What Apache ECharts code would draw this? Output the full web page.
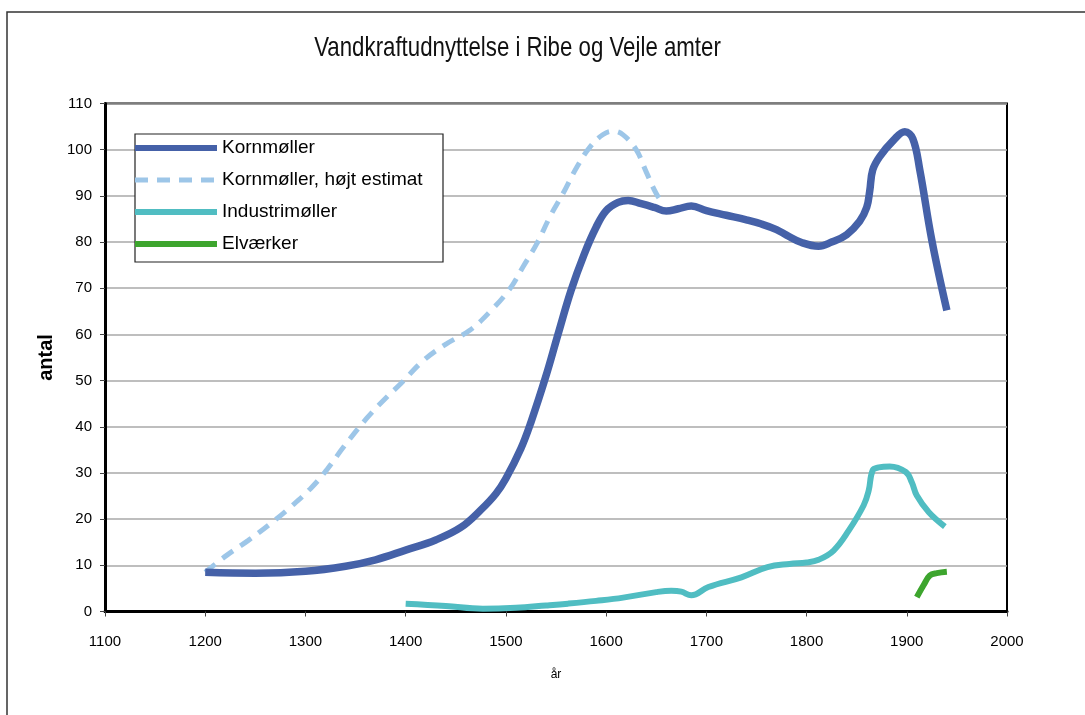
<!DOCTYPE html>
<html>
<head>
<meta charset="utf-8">
<script src="https://cdn.jsdelivr.net/npm/echarts@6/dist/echarts.min.js"></script>
<style>
  html, body { margin: 0; padding: 0; background: #fff; }
  #chart { width: 1085px; height: 715px; }
</style>
</head>
<body>
<div id="chart"></div>
<script>
const title = 'Vandkraftudnyttelse i Ribe og Vejle amter';
const xAxisName = 'år';
const yAxisName = 'antal';
const seriesNames = ['Kornmøller', 'Kornmøller, højt estimat', 'Industrimøller', 'Elværker'];

const kornYears  = [1200,1250,1300,1340,1370,1400,1430,1455,1475,1490,1500,1515,1525,1540,1552,1565,1578,1590,1600,1612,1622,1635,1648,1660,1672,1685,1700,1720,1740,1755,1770,1780,1795,1812,1825,1840,1853,1860,1863,1866,1873,1887,1898,1906,1913,1925,1940];
const kornValues = [8.5,8.3,8.7,9.8,11.2,13.3,15.5,18.2,22,25.5,28.8,35.3,41,51,60,69.5,77.3,83.2,86.8,88.6,89,88.3,87.5,86.7,87.2,87.8,86.8,85.8,84.8,83.9,82.7,81.5,79.9,79.1,80,81.6,84.5,87.5,91,95.6,98.5,102.1,103.9,102.4,95.6,80.4,65.2];

const hoejYears  = [1200,1221,1243,1265,1285,1305,1321,1338,1361,1381,1395,1418,1441,1464,1484,1504,1517,1531,1544,1557,1571,1584,1597,1607,1617,1630,1640,1650,1658];
const hoejValues = [8.5,12.1,15.4,19,22.6,26.6,30.6,35.6,41.8,46.4,49.3,54.4,58,60.9,64.9,69.9,74.6,79.7,85.5,90.5,96.3,100.6,103.3,104,103.2,100,95.2,90.5,88];

const indYears  = [1400,1440,1477,1510,1540,1562,1590,1617,1650,1665,1675,1685,1702,1735,1761,1783,1800,1812,1827,1842,1857,1862,1866,1872,1883,1899,1905,1910,1922,1938];
const indValues = [1.7,1.2,0.6,0.8,1.3,1.7,2.3,3.0,4.2,4.5,4.3,3.5,5.3,7.4,9.6,10.3,10.6,11.2,13.2,17.5,23,26.2,30.6,31.2,31.4,30.2,28,25.1,21.5,18.4];

const elYears  = [1910,1917,1923,1930,1940];
const elValues = [3.1,5.8,7.8,8.3,8.6];

const xTicks = { min: 1100, max: 2000, interval: 100 };
const yTicks = { min: 0, max: 110, interval: 10 };

function pairs(xs, ys) { return xs.map((x, i) => [x, ys[i]]); }

const FONT = "'Liberation Sans', Arial, sans-serif";
const chart = echarts.init(document.getElementById('chart'), null, { renderer: 'canvas' });

chart.setOption({
  backgroundColor: '#ffffff',
  animation: false,
  graphic: [
    { type: 'rect', z: 0, silent: true, shape: { x: 7, y: 12, width: 1100, height: 720 }, style: { fill: 'none', stroke: '#333', lineWidth: 1.5 } },
    { type: 'rect', z: 50, silent: true, shape: { x: 135, y: 134, width: 308, height: 128 }, style: { fill: '#fff', stroke: '#222', lineWidth: 1.2 } },
    { type: 'text', z: 50, silent: true, x: 517.5, y: 48.5, scaleX: 0.795, scaleY: 1,
      style: { text: title, x: 0, y: 0, textAlign: 'center', textVerticalAlign: 'middle', verticalAlign: 'middle',
               font: "normal 28px 'Liberation Sans', Arial, sans-serif", fill: '#111' } }
  ],
  legend: {
    z: 60,
    orient: 'vertical',
    left: 132,
    top: 138,
    padding: 0,
    itemWidth: 82,
    itemHeight: 14,
    itemGap: 12,
    itemStyle: { opacity: 0, borderWidth: 0 },
    lineStyle: { width: 6 },
    textStyle: { fontFamily: FONT, fontSize: 19, lineHeight: 20, color: '#000' },
    data: [
      { name: seriesNames[0], lineStyle: { width: 6 } },
      { name: seriesNames[1], lineStyle: { width: 5 } },
      { name: seriesNames[2], lineStyle: { width: 6 } },
      { name: seriesNames[3], lineStyle: { width: 6 } }
    ]
  },
  grid: {
    left: 105, right: 78, top: 103.5, bottom: 103.5,
    show: true, borderColor: '#000', borderWidth: 2, backgroundColor: 'transparent'
  },
  xAxis: {
    type: 'value',
    min: xTicks.min, max: xTicks.max, interval: xTicks.interval,
    name: xAxisName,
    nameLocation: 'middle',
    nameGap: 57,
    nameTextStyle: { fontFamily: FONT, fontSize: 12, color: '#000' },
    axisLine: { lineStyle: { color: '#000', width: 3 } },
    axisTick: { show: true, length: 5, lineStyle: { color: '#444', width: 1 } },
    axisLabel: { fontFamily: FONT, fontSize: 15, color: '#000', margin: 23, formatter: v => String(v) },
    splitLine: { show: false }
  },
  yAxis: {
    type: 'value',
    min: yTicks.min, max: yTicks.max, interval: yTicks.interval,
    name: yAxisName,
    nameLocation: 'middle',
    nameGap: 43,
    nameRotate: 90,
    nameTextStyle: { fontFamily: FONT, fontSize: 20, fontWeight: 'bold', color: '#000' },
    axisLine: { show: true, lineStyle: { color: '#000', width: 3 } },
    axisTick: { show: true, inside: false, length: 5, lineStyle: { color: '#444', width: 1 } },
    axisLabel: { fontFamily: FONT, fontSize: 15, color: '#000', margin: 13, formatter: v => String(v) },
    splitLine: { show: true, lineStyle: { color: '#A8A8A8', width: 1.5 } }
  },
  series: [
    {
      name: seriesNames[0], type: 'line', smooth: 0.4, symbol: 'none', z: 5,
      lineStyle: { color: '#4561A8', width: 7.5, cap: 'butt' },
      itemStyle: { color: '#4561A8' },
      data: pairs(kornYears, kornValues)
    },
    {
      name: seriesNames[1], type: 'line', smooth: 0.4, symbol: 'none', z: 4,
      lineStyle: { color: '#9DC6E8', width: 5, type: [13, 9] },
      itemStyle: { color: '#9DC6E8' },
      data: pairs(hoejYears, hoejValues)
    },
    {
      name: seriesNames[2], type: 'line', smooth: 0.4, symbol: 'none', z: 5,
      lineStyle: { color: '#50BDC2', width: 6 },
      itemStyle: { color: '#50BDC2' },
      data: pairs(indYears, indValues)
    },
    {
      name: seriesNames[3], type: 'line', smooth: 0.4, symbol: 'none', z: 5,
      lineStyle: { color: '#3DA52E', width: 6 },
      itemStyle: { color: '#3DA52E' },
      data: pairs(elYears, elValues)
    }
  ]
});
</script>
</body>
</html>
